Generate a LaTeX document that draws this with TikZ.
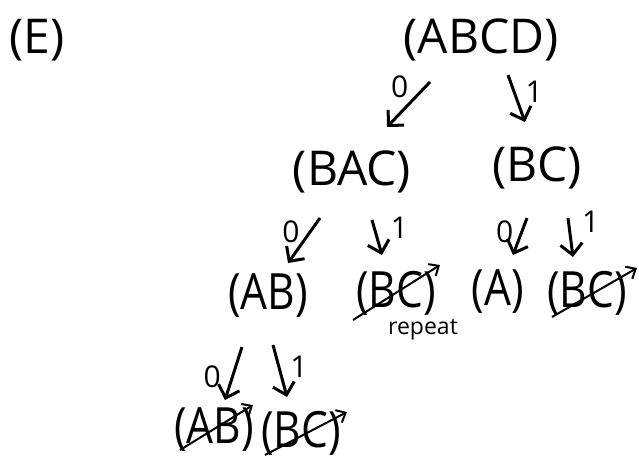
\documentclass[tikz,border=0pt]{standalone}
\usepackage{fontspec}
\setmainfont{Open Sans}
\newfontfamily\narrowfont{Open Sans}[FakeStretch=0.85]
\usepackage{tikz}
\usetikzlibrary{arrows.meta}

\begin{document}
\begin{tikzpicture}[
    x=1pt, y=-1pt,
    set/.style={inner sep=0pt, font=\fontsize{48}{52}\selectfont},
    subset/.style={inner sep=0pt, font=\narrowfont\fontsize{50}{54}\selectfont},
    bit/.style={inner sep=0pt, font=\fontsize{30}{32}\selectfont},
    note/.style={inner sep=0pt, font=\fontsize{23}{26}\selectfont},
    arrow/.style={-{Straight Barb[length=11pt,width=22pt]}, line width=3pt},
    strike/.style={-{Straight Barb[length=8pt,width=14pt]}, line width=2pt}
]
\useasboundingbox (0,0) rectangle (639,459);

% sets, level by level
\node[set] (e) at (37,40) {(E)};
\node[set] (abcd) at (481,40) {(ABCD)};
\node[set] (bac) at (352,172) {(BAC)};
\node[set] (bc) at (537,168) {(BC)};
\node[subset] (ab) at (268,296) {(AB)};
\node[subset] (bcrep) at (396,293) {(BC)};
\node[note] (repeat) at (423,330) {repeat};
\node[subset] (a) at (498,292) {(A)};
\node[subset] (bcr) at (587,293) {(BC)};
\node[subset] (abx) at (214,430) {(AB)};
\node[subset] (bcx) at (301,433) {(BC)};

% branches, 0 to the left and 1 to the right
\draw[arrow] ([shift={(-51,42)}]abcd.center) -- node[bit, pos=0.1, left=16pt] {0} ([shift={(35,-45)}]bac.center);
\draw[arrow] ([shift={(27,35)}]abcd.center) -- node[bit, pos=0.36, right=10pt] {1} ([shift={(-12,-46)}]bc.center);
\draw[arrow] ([shift={(-32,46)}]bac.center) -- node[bit, pos=0.31, left=9pt] {0} ([shift={(20,-33)}]ab.center);
\draw[arrow] ([shift={(20,48)}]bac.center) -- node[bit, pos=0.23, right=15pt] {1} ([shift={(-14,-38)}]bcrep.center);
\draw[arrow] ([shift={(-10,50)}]bc.center) -- node[bit, pos=0.38, left=7pt] {0} ([shift={(15,-37)}]a.center);
\draw[arrow] ([shift={(31,50)}]bc.center) -- node[bit, pos=0.1, right=12pt] {1} ([shift={(-14,-36)}]bcr.center);
\draw[arrow] ([shift={(-26,51)}]ab.center) -- node[bit, pos=0.57, left=10pt] {0} ([shift={(11,-30)}]abx.center);
\draw[arrow] ([shift={(5,49)}]ab.center) -- node[bit, pos=0.42, right=10pt] {1} ([shift={(-14,-36)}]bcx.center);

% struck out sets
\draw[strike] ([shift={(-43,27)}]bcrep.center) -- ([shift={(44,-28)}]bcrep.center);
\draw[strike] ([shift={(-35,24)}]bcr.center) -- ([shift={(50,-25)}]bcr.center);
\draw[strike] ([shift={(-34,20)}]abx.center) -- ([shift={(39,-25)}]abx.center);
\draw[strike] ([shift={(-36,22)}]bcx.center) -- ([shift={(46,-21)}]bcx.center);

\end{tikzpicture}
\end{document}
